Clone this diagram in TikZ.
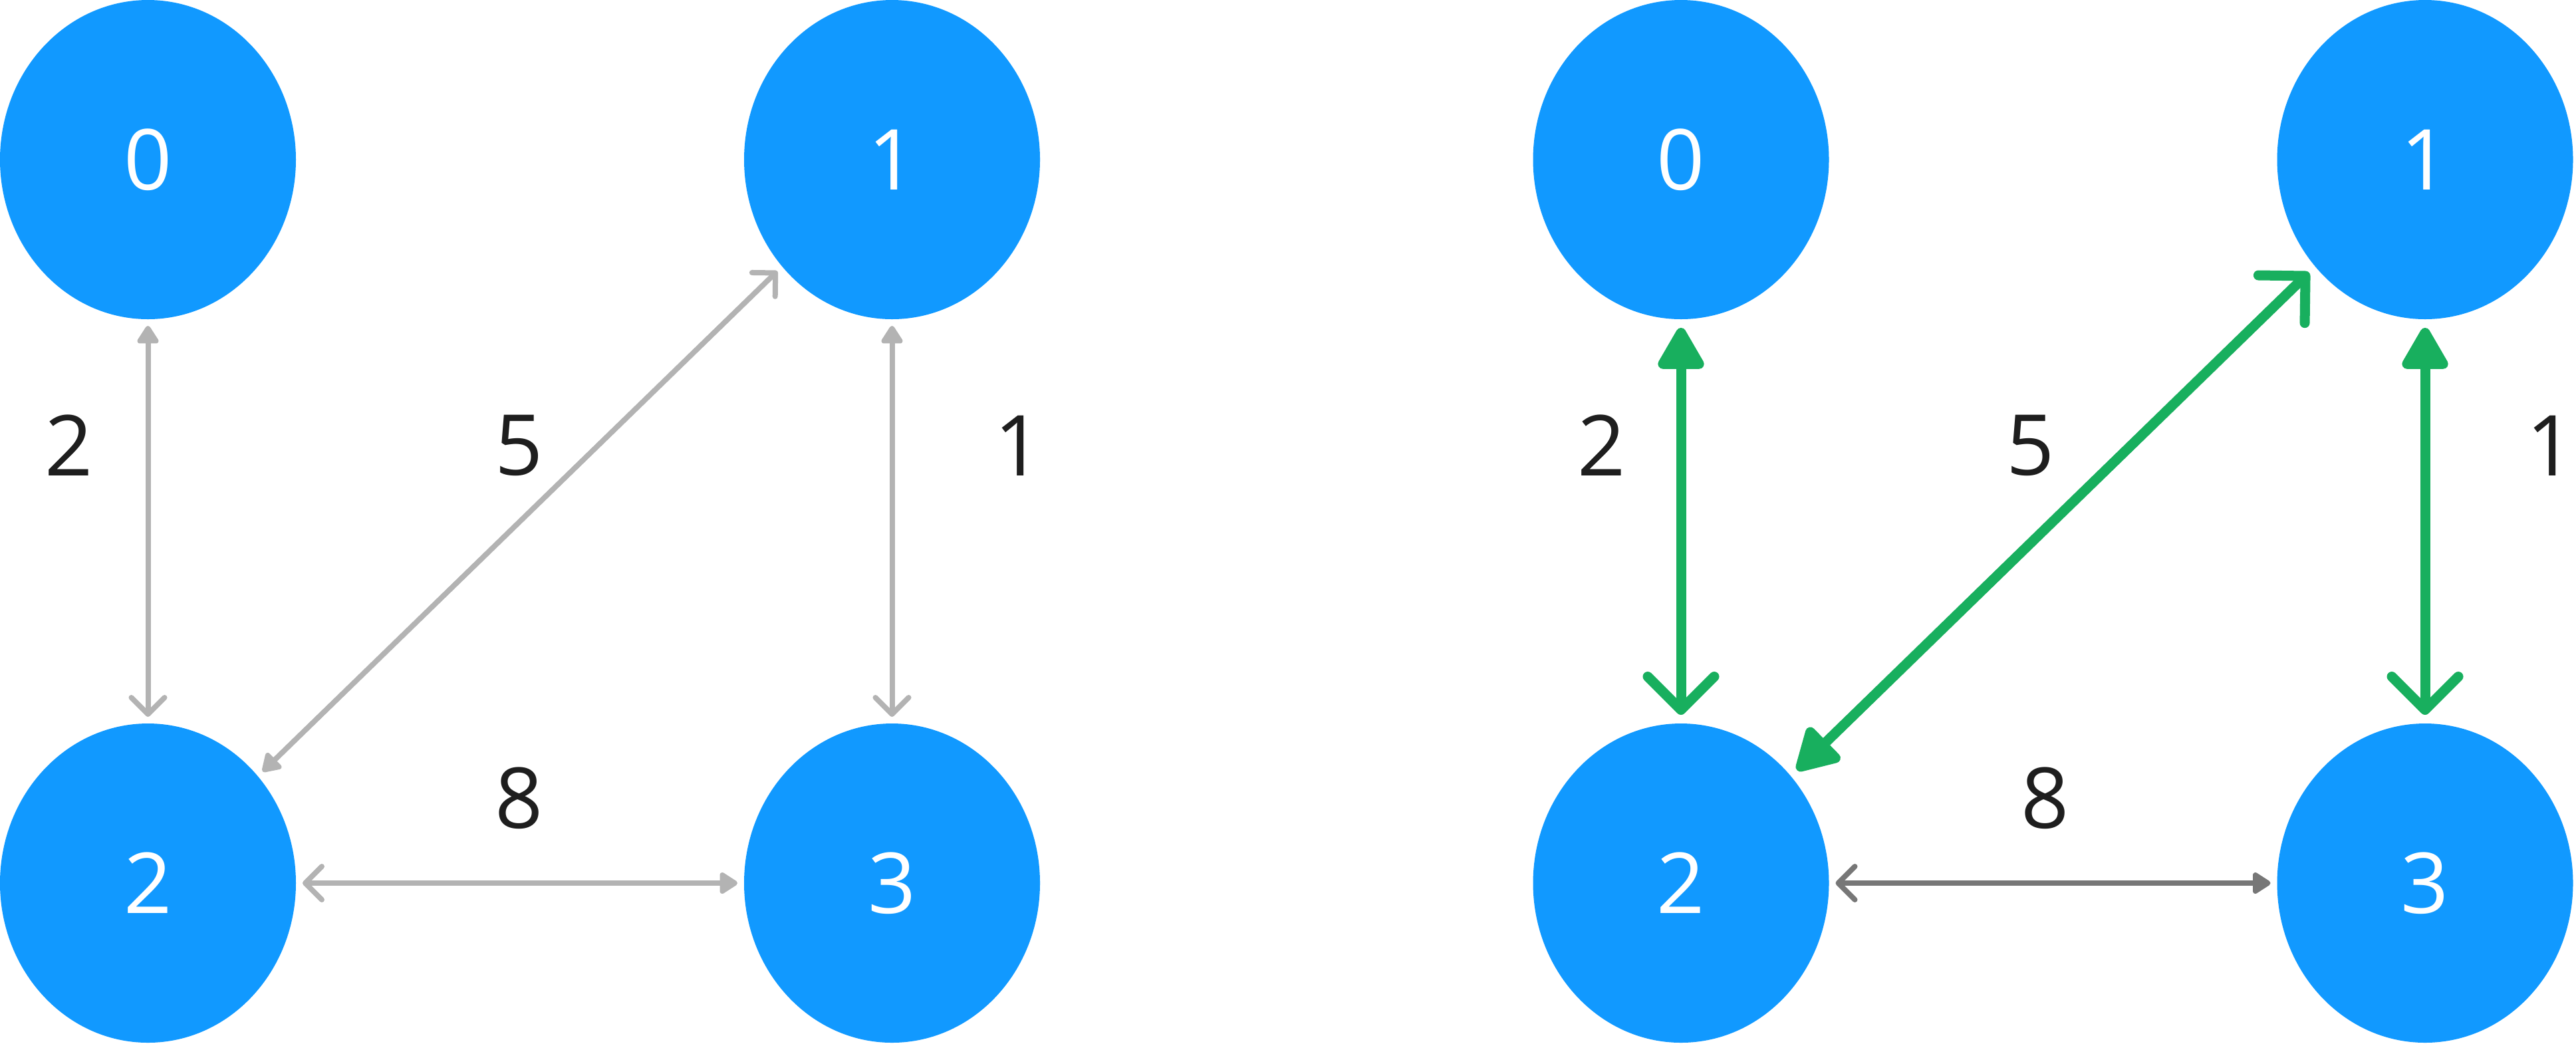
\documentclass[tikz,border=0pt]{standalone}
\usepackage{fontspec}
\setmainfont{Open Sans}
\usetikzlibrary{positioning,arrows.meta,shapes.geometric}
\usepackage{xcolor}
\definecolor{nodeblue}{HTML}{1199FF}
\definecolor{edgegray}{HTML}{B3B3B3}
\definecolor{pathgray}{HTML}{777777}
\definecolor{pathgreen}{HTML}{18AF5E}
\definecolor{labelblack}{HTML}{1E1E1E}

\begin{document}
\begin{tikzpicture}[node distance=6.08cm and 6.74cm]
\tikzstyle{vertex}=[ellipse, fill=nodeblue, text=white, minimum width=4.45cm, minimum height=4.8cm, inner sep=0pt, outer sep=0pt, font=\fontsize{36}{44}\selectfont]
\tikzstyle{weight}=[text=labelblack, inner sep=0pt, font=\fontsize{36}{44}\selectfont]
\tikzstyle{link}=[line width=0.08cm, edgegray, shorten <=0.1cm, shorten >=0.1cm, {Triangle[length=0.3cm,width=0.36cm,round]}-{Straight Barb[length=0.25cm,width=0.5cm,round]}]
\tikzstyle{chosen}=[line width=0.15cm, pathgreen, shorten <=0.13cm, shorten >=0.13cm, {Triangle[length=0.7cm,width=0.76cm,round]}-{Straight Barb[length=0.5cm,width=1cm,round]}]
\useasboundingbox (0,0) rectangle (38.74,-15.69);

% left graph
\node[vertex] (l0) at (2.225,-2.40) {0};
\node[vertex, right=of l0] (l1) {1};
\node[vertex, below=of l0] (l2) {2};
\node[vertex, right=of l2] (l3) {3};
\node[weight] (lw02) at (1.04,-6.70) {2};
\node[weight] (lw12) at (7.81,-6.70) {5};
\node[weight] (lw13) at (15.32,-6.70) {1};
\node[weight] (lw23) at (7.81,-12.0) {8};
\draw[link] (l0) -- (l2);
\draw[link] (l2) -- (l1);
\draw[link] (l1) -- (l3);
\draw[link] (l3) -- (l2);

% right graph
\node[vertex] (r0) at (25.28,-2.40) {0};
\node[vertex, right=of r0] (r1) {1};
\node[vertex, below=of r0] (r2) {2};
\node[vertex, right=of r2] (r3) {3};
\node[weight] (rw02) at (24.09,-6.70) {2};
\node[weight] (rw12) at (30.54,-6.70) {5};
\node[weight] (rw13) at (38.36,-6.70) {1};
\node[weight] (rw23) at (30.76,-12.0) {8};
\draw[chosen] (r0) -- (r2);
\draw[chosen] (r2) -- (r1);
\draw[chosen] (r1) -- (r3);
\draw[link, pathgray] (r3) -- (r2);
\end{tikzpicture}
\end{document}
